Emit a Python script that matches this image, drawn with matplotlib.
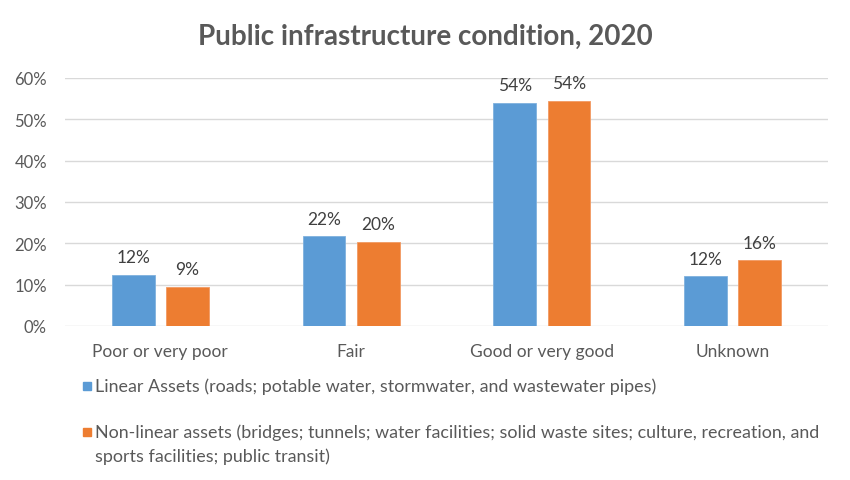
import numpy as np
import matplotlib.pyplot as plt
from matplotlib.patches import Rectangle

plt.rcParams['font.family'] = ['Lato', 'DejaVu Sans']

# Chart data
categories = ["Poor or very poor", "Fair", "Good or very good", "Unknown"]
linear_vals = [12.3, 21.7, 53.9, 12.0]
nonlinear_vals = [9.4, 20.3, 54.4, 15.9]
linear_labels = ["12%", "22%", "54%", "12%"]
nonlinear_labels = ["9%", "20%", "54%", "16%"]
legend_labels = [
    "Linear Assets (roads; potable water, stormwater, and wastewater pipes)",
    "Non-linear assets (bridges; tunnels; water facilities; solid waste sites; culture, recreation, and\nsports facilities; public transit)",
]

blue = '#5B9BD5'
orange = '#ED7D31'
grey_txt = '#595959'
fs = 12.5

fig = plt.figure(figsize=(8.5, 4.81), dpi=100)
ax = fig.add_axes([65 / 850, 1 - 327 / 481, 763 / 850, 248 / 481])

x = np.arange(len(categories))
w = 0.224
off = 0.142
b1 = ax.bar(x - off, linear_vals, w, color=blue, edgecolor='#7fb1de', linewidth=0.6, zorder=3)
b2 = ax.bar(x + off, nonlinear_vals, w, color=orange, edgecolor='#f29a63', linewidth=0.6, zorder=3)

# value labels above the bars
for bars, labs in ((b1, linear_labels), (b2, nonlinear_labels)):
    for rect, lab in zip(bars, labs):
        ax.annotate(lab, (rect.get_x() + rect.get_width() / 2, rect.get_height()),
                    xytext=(0, 7), textcoords='offset points', ha='center', va='bottom',
                    fontsize=fs, color='#404040')

ax.set_xlim(-0.5, len(categories) - 0.5)
ax.set_ylim(0, 60)
ax.set_yticks(np.arange(0, 61, 10))
ax.set_yticklabels([f"{v}%" for v in range(0, 61, 10)])
ax.set_xticks(x)
ax.set_xticklabels(categories)
ax.tick_params(axis='both', length=0, labelsize=fs, colors=grey_txt)
ax.tick_params(axis='y', labelsize=12)
ax.tick_params(axis='x', pad=12)
ax.tick_params(axis='y', pad=13)
ax.grid(axis='y', color='#d9d9d9', linewidth=1, zorder=0)
for s in ax.spines.values():
    s.set_visible(False)

fig.text(0.5, 1 - 37 / 481, "Public infrastructure condition, 2020", ha='center', va='center',
         fontsize=20, fontweight='bold', color=grey_txt)

# legend drawn below the axes
legend_y = [387, 433]
for col, lab, yy in zip([blue, orange], legend_labels, legend_y):
    fig.patches.append(Rectangle((83 / 850, 1 - (yy + 4) / 481), 8 / 850, 8 / 481,
                                 transform=fig.transFigure, color=col))
    fig.text(95 / 850, 1 - (yy - 9) / 481, lab, ha='left', va='top', fontsize=12.9,
             color=grey_txt, linespacing=1.55)

fig.savefig('out.png', dpi=100)
